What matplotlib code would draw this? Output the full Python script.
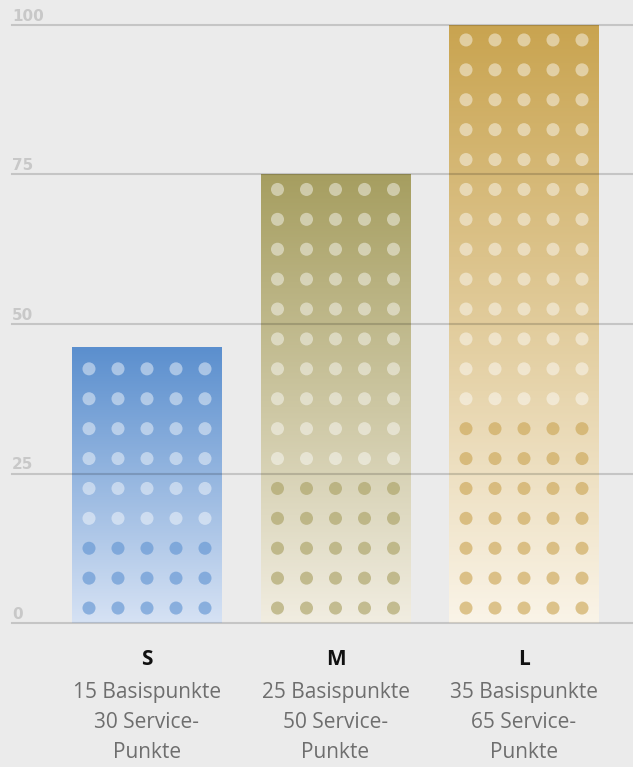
"""
plot.py
-------
Paketvergleich S / M / L: Basispunkte + Service-Punkte als gepunktete Säulen.
"""

import numpy as np
import matplotlib
matplotlib.use("Agg")
import matplotlib.pyplot as plt
from matplotlib.colors import LinearSegmentedColormap


# ---------------------------------------------------------------------------
# Data
# ---------------------------------------------------------------------------

packages = ["S", "M", "L"]
basis_points = [15, 25, 35]
service_points = [30, 50, 65]
bar_heights = [46, 75, 100]
y_ticks = [0, 25, 50, 75, 100]

# colours (top of gradient, bottom of gradient, dark dot colour)
top_colors = ["#5b8fce", "#a69e60", "#c9a450"]
bottom_colors = ["#d6e2f4", "#f1ede1", "#faf4e8"]
basis_dot_colors = ["#5f93d2", "#a9a062", "#cba553"]

BG = "#ebebeb"
POINTS_PER_ROW = 5


# ---------------------------------------------------------------------------
# Figure
# ---------------------------------------------------------------------------

W, H = 633, 767
fig = plt.figure(figsize=(W / 100, H / 100), dpi=100)
fig.patch.set_facecolor(BG)

ax_left, ax_right, ax_bottom, ax_top = 12, 633, 623, 25
ax = fig.add_axes([ax_left / W, 1 - ax_bottom / H,
                   (ax_right - ax_left) / W, (ax_bottom - ax_top) / H])
ax.set_facecolor(BG)

spacing_px = 188.5
x_min = -(147 - ax_left) / spacing_px
x_max = x_min + (ax_right - ax_left) / spacing_px
ax.set_xlim(x_min, x_max)
ax.set_ylim(0, 100)
for s in ax.spines.values():
    s.set_visible(False)
ax.set_xticks([])
ax.set_yticks([])

bar_width = 150 / spacing_px
col_step = 29 / spacing_px
row_height = 5  # every row of dots = 5 points

for i, name in enumerate(packages):
    x0, x1 = i - bar_width / 2, i + bar_width / 2
    h = bar_heights[i]

    # vertical gradient bar
    cmap = LinearSegmentedColormap.from_list(name, [bottom_colors[i], top_colors[i]])
    grad = np.linspace(0, 1, 256).reshape(-1, 1)
    ax.imshow(grad, cmap=cmap, aspect="auto", origin="lower",
              extent=(x0, x1, 0, h), zorder=1, interpolation="bicubic")

    # dots: bottom rows basis points, upper rows service points
    n_total = basis_points[i] + service_points[i]
    n_rows = n_total // POINTS_PER_ROW
    n_basis_rows = basis_points[i] // POINTS_PER_ROW
    cols = i + (np.arange(POINTS_PER_ROW) - 2) * col_step
    for r in range(n_rows):
        yc = r * row_height + row_height / 2
        if r < n_basis_rows:
            ax.scatter(cols, [yc] * len(cols), s=88, color=basis_dot_colors[i],
                       alpha=0.62, edgecolors="none", zorder=2)
        else:
            ax.scatter(cols, [yc] * len(cols), s=88, color="white", alpha=0.45,
                       edgecolors="none", zorder=2)

# gridlines over the bars
for v in y_ticks:
    ax.axhline(v, color="black", alpha=0.16, linewidth=1.5, zorder=3, clip_on=False)
    ax.text(x_min, v + 0.25, str(v), ha="left", va="bottom",
            fontsize=11, fontweight="bold", color="#c8c8c8",
            family=["Liberation Sans Narrow", "DejaVu Sans"], zorder=4)

# category labels below
for i, name in enumerate(packages):
    ax.annotate(name, xy=(i, 0), xycoords=("data", "axes fraction"),
                xytext=(0, -30.2), textcoords="offset points",
                ha="center", va="baseline", fontsize=15, fontweight="bold",
                color="#111111", family="Open Sans", annotation_clip=False)
    lines = [f"{basis_points[i]} Basispunkte", f"{service_points[i]} Service-", "Punkte"]
    for k, line in enumerate(lines):
        ax.annotate(line, xy=(i, 0), xycoords=("data", "axes fraction"),
                    xytext=(0, -54 - 21.6 * k), textcoords="offset points",
                    ha="center", va="baseline", fontsize=15,
                    color="#6e6e6e", family="Open Sans", annotation_clip=False)

fig.savefig("out.png", dpi=100, facecolor=fig.get_facecolor())
